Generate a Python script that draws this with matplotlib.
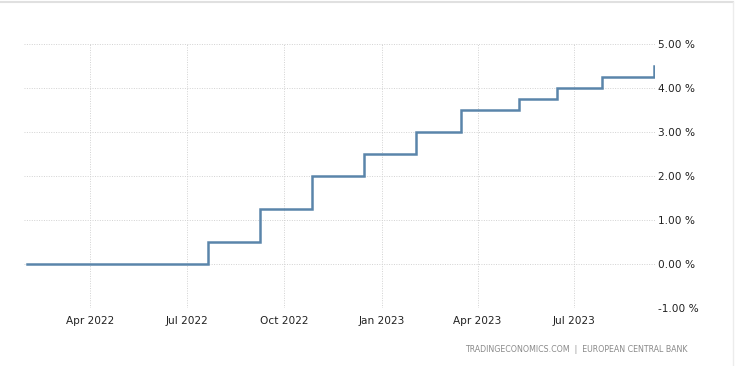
import matplotlib
matplotlib.use("Agg")
import matplotlib.pyplot as plt
from matplotlib.lines import Line2D
import datetime as dt

# Data
dates = ["2022-02-01", "2022-07-21", "2022-09-08", "2022-10-27", "2022-12-15",
         "2023-02-02", "2023-03-16", "2023-05-10", "2023-06-15", "2023-07-27",
         "2023-09-14"]
rates = [0.00, 0.50, 1.25, 2.00, 2.50, 3.00, 3.50, 3.75, 4.00, 4.25, 4.50]
tick_dates = ["2022-04-01", "2022-07-01", "2022-10-01", "2023-01-01", "2023-04-01", "2023-07-01"]
tick_labels = ["Apr 2022", "Jul 2022", "Oct 2022", "Jan 2023", "Apr 2023", "Jul 2023"]
y_ticks = [-1, 0, 1, 2, 3, 4, 5]
source = "TRADINGECONOMICS.COM  |  EUROPEAN CENTRAL BANK"

W, H = 741, 366
fig = plt.figure(figsize=(W / 100, H / 100), dpi=100)
fig.patch.set_facecolor("white")

left, right, top, bottom = 24, 655, 44, 308
ax = fig.add_axes([left / W, 1 - bottom / H, (right - left) / W, (bottom - top) / H])

x = [dt.datetime.strptime(d, "%Y-%m-%d") for d in dates]
ax.step(x, rates, where="post", color="#5a85aa", lw=1.8, solid_joinstyle="miter", zorder=3)

ax.set_ylim(-1, 5)
ax.set_xlim(dt.datetime(2022, 1, 29), dt.datetime(2023, 9, 15))
ax.set_yticks(y_ticks)
ax.set_yticklabels([f"{v:.2f} %" for v in y_ticks])
ax.set_xticks([dt.datetime.strptime(d, "%Y-%m-%d") for d in tick_dates])
ax.set_xticklabels(tick_labels)

ax.yaxis.tick_right()
for s in ax.spines.values():
    s.set_visible(False)
ax.tick_params(axis="both", length=0, labelsize=7.6, labelcolor="#222222")
ax.tick_params(axis="y", pad=2)
ax.tick_params(axis="x", pad=6)
ax.grid(True, color="#d2d2d2", linestyle=(0, (1, 1.5)), lw=0.7)

fig.text(688 / W, 1 - 350 / H, source, ha="right", va="center", fontsize=5.7, color="#8a8a8a")

# frame lines of the widget
fig.add_artist(Line2D([0, 733 / W], [1 - 1.5 / H, 1 - 1.5 / H], transform=fig.transFigure, color="#e0e0e0", lw=1.5))
fig.add_artist(Line2D([733 / W, 733 / W], [0, 1 - 1.5 / H], transform=fig.transFigure, color="#ececec", lw=1.0))

fig.savefig("out.png", dpi=100, facecolor="white")
